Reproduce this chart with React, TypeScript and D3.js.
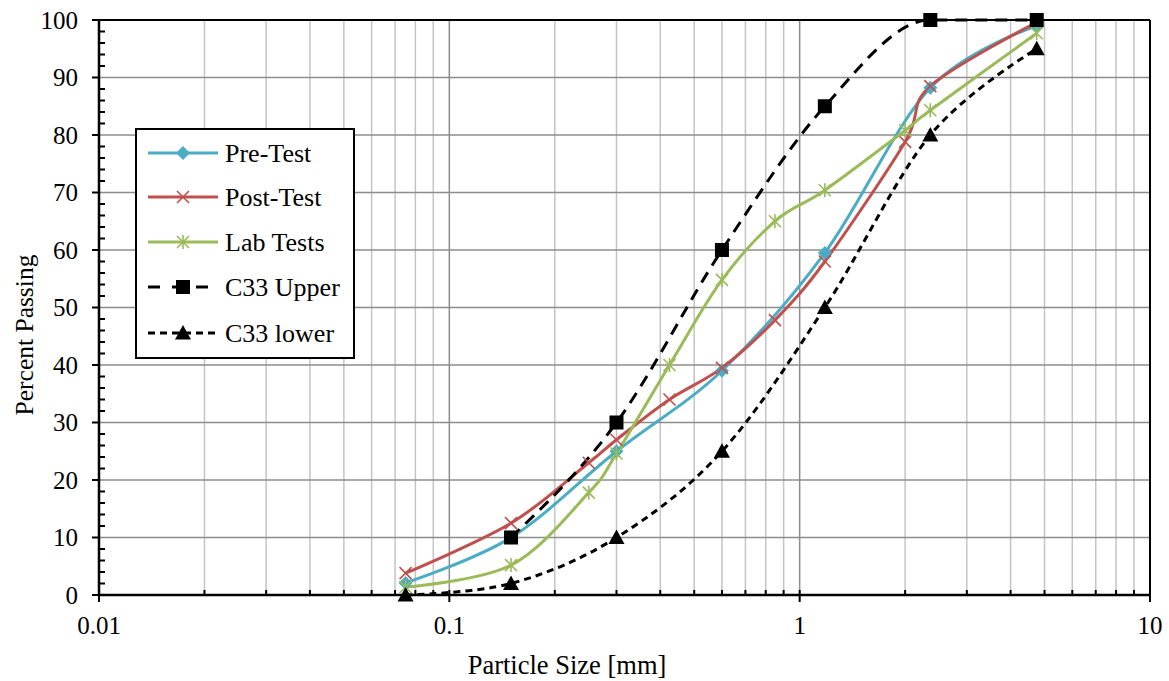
import React from "react";
import * as d3 from "d3";

const preSize = [0.075, 0.15, 0.3, 0.6, 1.18, 2.36, 4.75];
const prePass = [2.1, 10, 25, 39, 59.5, 88.2, 99];

const postSize = [0.075, 0.15, 0.25, 0.3, 0.425, 0.6, 0.85, 1.18, 2.0, 2.36, 4.75];
const postPass = [3.8, 12.5, 23, 27, 34, 39.5, 47.8, 58, 78.8, 88.5, 99.6];

const labSize = [0.075, 0.15, 0.25, 0.3, 0.425, 0.6, 0.85, 1.18, 2.0, 2.36, 4.75];
const labPass = [1.4, 5.2, 17.8, 24.6, 40, 54.8, 65, 70.4, 80.8, 84.3, 97.7];

const upperSize = [0.15, 0.3, 0.6, 1.18, 2.36, 4.75];
const upperPass = [10, 30, 60, 85, 100, 100];

const lowerSize = [0.075, 0.15, 0.3, 0.6, 1.18, 2.36, 4.75];
const lowerPass = [0, 2, 10, 25, 50, 80, 95];

const xTicks = [0.01, 0.1, 1, 10];
const yTicks = [0, 10, 20, 30, 40, 50, 60, 70, 80, 90, 100];

const seriesNames = ["Pre-Test", "Post-Test", "Lab Tests", "C33 Upper", "C33 lower"];

const W = 1169, H = 681;
const L = 99, R = 1150, T = 20, B = 595;
const FONT = "'Liberation Serif', 'Times New Roman', serif";

type Marker = "diamond" | "x" | "star" | "square" | "triangle";

function MarkerShape({ type, x, y, color }: { type: Marker; x: number; y: number; color: string }) {
  if (type === "diamond") {
    const s = 7;
    return <path d={`M${x},${y - s}L${x + s},${y}L${x},${y + s}L${x - s},${y}Z`} fill={color} />;
  }
  if (type === "x") {
    const s = 6;
    return (
      <path d={`M${x - s},${y - s}L${x + s},${y + s}M${x - s},${y + s}L${x + s},${y - s}`} stroke={color} strokeWidth={1.6} fill="none" />
    );
  }
  if (type === "star") {
    const s = 6;
    return (
      <path
        d={`M${x - s},${y - s}L${x + s},${y + s}M${x - s},${y + s}L${x + s},${y - s}M${x},${y - s - 1}L${x},${y + s + 1}`}
        stroke={color}
        strokeWidth={1.6}
        fill="none"
      />
    );
  }
  if (type === "square") {
    const s = 7;
    return <rect x={x - s} y={y - s} width={2 * s} height={2 * s} fill={color} />;
  }
  const s = 8;
  return <path d={`M${x},${y - s}L${x + s},${y + s * 0.8}L${x - s},${y + s * 0.8}Z`} fill={color} />;
}

export default function App() {
  const x = d3.scaleLog().domain([0.01, 10]).range([L, R]);
  const y = d3.scaleLinear().domain([0, 100]).range([B, T]);

  const mkLine = (curve: d3.CurveFactory) =>
    d3
      .line<[number, number]>()
      .x((d) => x(d[0]))
      .y((d) => y(d[1]))
      .curve(curve);
  const smooth = mkLine(d3.curveCardinal.tension(0));
  const mono = mkLine(d3.curveMonotoneX);

  const series = [
    { name: seriesNames[0], sx: preSize, sy: prePass, color: "#4BACC6", dash: "", marker: "diamond" as Marker, w: 3, gen: smooth },
    { name: seriesNames[1], sx: postSize, sy: postPass, color: "#C0504D", dash: "", marker: "x" as Marker, w: 3, gen: smooth },
    { name: seriesNames[2], sx: labSize, sy: labPass, color: "#9BBB59", dash: "", marker: "star" as Marker, w: 3, gen: smooth },
    { name: seriesNames[3], sx: upperSize, sy: upperPass, color: "#000000", dash: "12 8", marker: "square" as Marker, w: 3, gen: mono },
    { name: seriesNames[4], sx: lowerSize, sy: lowerPass, color: "#000000", dash: "7 5", marker: "triangle" as Marker, w: 3, gen: smooth },
  ];

  const minorX: number[] = [];
  for (let dec = 0.01; dec < 10; dec *= 10) {
    for (let k = 2; k <= 9; k++) minorX.push(+(dec * k).toPrecision(3));
  }
  const minorY = d3.range(0, 101, 2).filter((v) => v % 10 !== 0);

  const legX = 136, legY = 129, legW = 218, legH = 229;
  const rowY = [153, 197, 242, 287, 333];

  return (
    <svg width={W} height={H} style={{ position: "absolute", left: 0, top: 0, background: "#fff" }}>
      <rect width={W} height={H} fill="#fff" />
      {minorX.map((v) => (
        <line key={"mx" + v} x1={x(v)} x2={x(v)} y1={T} y2={B} stroke="#c4c4c4" strokeWidth={1.5} />
      ))}
      {xTicks.map((v) => (
        <line key={"Mx" + v} x1={x(v)} x2={x(v)} y1={T} y2={B} stroke="#8c8c8c" strokeWidth={1.5} />
      ))}
      {yTicks.map((v) => (
        <line key={"gy" + v} x1={L} x2={R} y1={y(v)} y2={y(v)} stroke="#8c8c8c" strokeWidth={1.5} />
      ))}
      <line x1={L} x2={R} y1={T} y2={T} stroke="#000" strokeWidth={2} />
      <line x1={R} x2={R} y1={T} y2={B} stroke="#000" strokeWidth={2} />

      {series.map((s) => (
        <path
          key={"l" + s.name}
          d={s.gen(s.sx.map((v, i) => [v, s.sy[i]] as [number, number])) || ""}
          fill="none"
          stroke={s.color}
          strokeWidth={s.w}
          strokeDasharray={s.dash || undefined}
        />
      ))}
      {series.map((s) =>
        s.sx.map((v, i) => <MarkerShape key={s.name + i} type={s.marker} x={x(v)} y={y(s.sy[i])} color={s.color} />)
      )}

      <line x1={L} x2={L} y1={T - 1} y2={B + 1} stroke="#000" strokeWidth={2.5} />
      <line x1={L - 1} x2={R + 1} y1={B} y2={B} stroke="#000" strokeWidth={2.5} />
      {yTicks.map((v) => (
        <line key={"ty" + v} x1={L - 7} x2={L} y1={y(v)} y2={y(v)} stroke="#000" strokeWidth={2} />
      ))}
      {minorY.map((v) => (
        <line key={"tmy" + v} x1={L} x2={L + 6} y1={y(v)} y2={y(v)} stroke="#000" strokeWidth={2} />
      ))}
      {xTicks.map((v) => (
        <line key={"tx" + v} x1={x(v)} x2={x(v)} y1={B - 5} y2={B + 7} stroke="#000" strokeWidth={2} />
      ))}
      {minorX.map((v) => (
        <line key={"tmx" + v} x1={x(v)} x2={x(v)} y1={B - 5} y2={B} stroke="#000" strokeWidth={2} />
      ))}

      {yTicks.map((v) => (
        <text key={"yl" + v} x={L - 21} y={y(v)} dy="0.35em" textAnchor="end" fontFamily={FONT} fontSize={25} fill="#000">
          {v}
        </text>
      ))}
      {xTicks.map((v) => (
        <text key={"xl" + v} x={x(v)} y={634} textAnchor="middle" fontFamily={FONT} fontSize={25} fill="#000">
          {String(v)}
        </text>
      ))}

      <text x={567} y={674} textAnchor="middle" fontFamily={FONT} fontSize={26.5} fill="#000">
        Particle Size [mm]
      </text>
      <text transform={`translate(33,335) rotate(-90)`} textAnchor="middle" fontFamily={FONT} fontSize={25.5} fill="#000">
        Percent Passing
      </text>

      <rect x={legX} y={legY} width={legW} height={legH} fill="#fff" stroke="#000" strokeWidth={2} />
      {series.map((s, i) => (
        <g key={"lg" + s.name}>
          <line
            x1={148}
            x2={218}
            y1={rowY[i]}
            y2={rowY[i]}
            stroke={s.color}
            strokeWidth={s.w}
            strokeDasharray={s.dash ? (i === 3 ? "12 12" : "7 5") : undefined}
          />
          <MarkerShape type={s.marker} x={183} y={rowY[i]} color={s.color} />
          <text x={225} y={rowY[i]} dy="0.35em" fontFamily={FONT} fontSize={26} fill="#000">
            {s.name}
          </text>
        </g>
      ))}
    </svg>
  );
}
